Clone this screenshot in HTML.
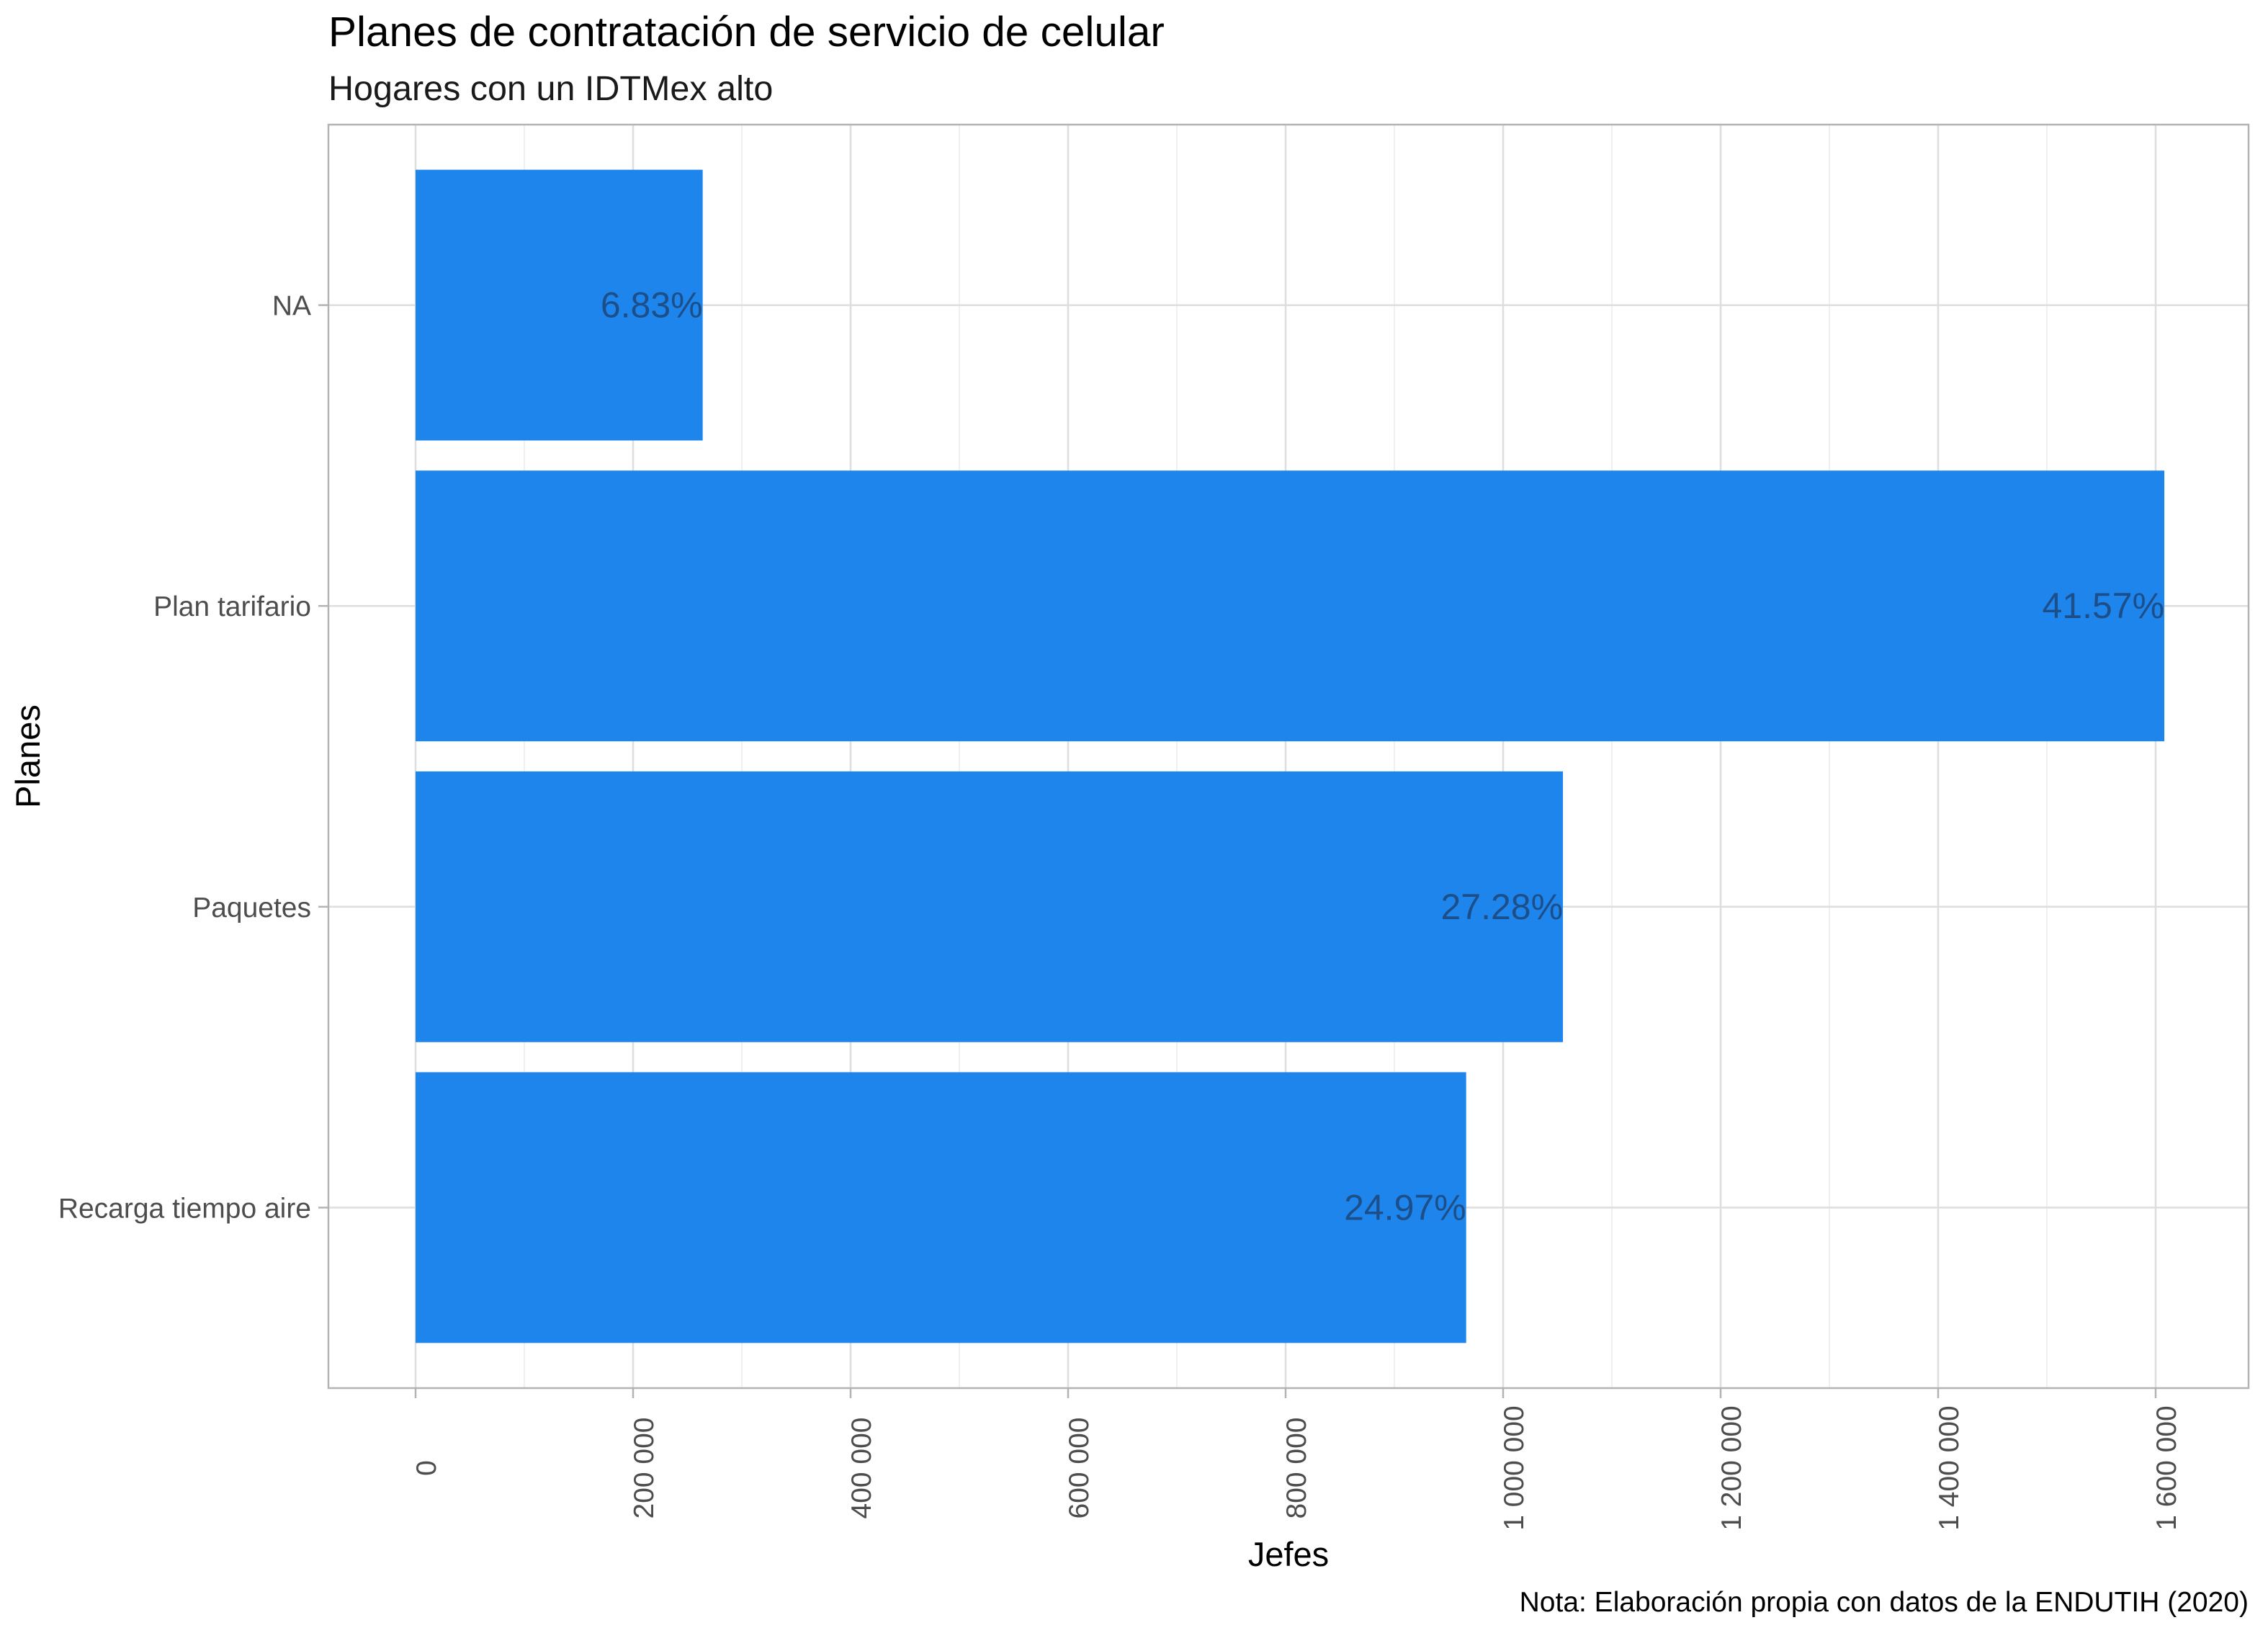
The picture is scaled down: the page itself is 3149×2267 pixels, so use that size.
<!DOCTYPE html>
<html><head><meta charset="utf-8"><style>
html,body{margin:0;padding:0;background:#fff;}
svg{display:block;font-family:"Liberation Sans",Arial,sans-serif;}
</style></head><body>
<svg id="chart" width="3149" height="2267" viewBox="0 0 3149 2267" xmlns="http://www.w3.org/2000/svg">
<rect x="0" y="0" width="3149" height="2267" fill="#fff"/>
<text x="456" y="64" font-size="58.5" fill="#000">Planes de contratación de servicio de celular</text>
<text x="456" y="139" font-size="48.5" fill="#1a1a1a">Hogares con un IDTMex alto</text>
<g id="grid"></g>
<g id="bars"></g>
<g id="labels"></g>
<rect x="456" y="173" width="2666" height="1754" fill="none" stroke="#b3b3b3" stroke-width="2.5"/>
<g id="axes"></g>
<text transform="translate(55,1050) rotate(-90)" text-anchor="middle" font-size="47" fill="#000">Planes</text>
<text x="1789" y="2174" text-anchor="middle" font-size="47" fill="#000">Jefes</text>
<text x="3122" y="2237" text-anchor="end" font-size="39" fill="#000">Nota: Elaboración propia con datos de la ENDUTIH (2020)</text>
</svg>
<script>
const categories = ["NA", "Plan tarifario", "Paquetes", "Recarga tiempo aire"];
const values = [264000, 1608000, 1055000, 966000];
const pctLabels = ["6.83%", "41.57%", "27.28%", "24.97%"];
const xTicks = [0, 200000, 400000, 600000, 800000, 1000000, 1200000, 1400000, 1600000];
const xTickLabels = ["0", "200 000", "400 000", "600 000", "800 000", "1 000 000", "1 200 000", "1 400 000", "1 600 000"];

const NS = "http://www.w3.org/2000/svg";
const panel = {l:456, t:173, r:3122, b:1927};
const xScale = v => 577 + v * 1510 / 1000000;
const band = (panel.b - panel.t) / (categories.length - 1 + 1.2);
const yScale = i => panel.t + (0.6 + i) * band;
function mk(tag, attrs, parent){const e=document.createElementNS(NS,tag);for(const k in attrs)e.setAttribute(k,attrs[k]);parent.appendChild(e);return e;}
const grid=document.getElementById('grid'), bars=document.getElementById('bars'), labels=document.getElementById('labels'), axes=document.getElementById('axes');

for(let i=0;i<xTicks.length;i++){
  const v = xTicks[i] + 100000;
  const x = xScale(v);
  if (x < panel.r) {
    const g = mk('line',{x1:x,x2:x,y1:panel.t,y2:panel.b,stroke:'#ececec','stroke-width':1.5},grid);
    
    
  }
}
xTicks.forEach((v,i)=>{
  const x = xScale(v);
  const g = mk('line',{x1:x,x2:x,y1:panel.t,y2:panel.b,stroke:'#dedede','stroke-width':2.5},grid);
  
  
  const t = mk('line',{x1:x,x2:x,y1:panel.b,y2:panel.b+14,stroke:'#b3b3b3','stroke-width':2.5},axes);
  
  
  const lb = mk('text',{transform:`translate(${x+28},2038) rotate(-90)`,'text-anchor':'middle','font-size':39,fill:'#4d4d4d'},axes);
  lb.textContent = xTickLabels[i];
  
  
});
categories.forEach((c,i)=>{
  const y = yScale(i);
  const g = mk('line',{x1:panel.l,x2:panel.r,y1:y,y2:y,stroke:'#dedede','stroke-width':2.5},grid);
  
  
  const t = mk('line',{x1:panel.l-14,x2:panel.l,y1:y,y2:y,stroke:'#b3b3b3','stroke-width':2.5},axes);
  
  
  const lb = mk('text',{x:panel.l-24,y:y+14,'text-anchor':'end','font-size':39,fill:'#4d4d4d'},axes);
  lb.textContent = c;
  
  
  const h = band*0.9;
  const x0 = xScale(0), x1 = xScale(values[i]);
  const r = mk('rect',{x:x0,y:y-h/2,width:x1-x0,height:h,fill:'#1e85ec'},bars);
  
  
  const tl = mk('text',{x:x1,y:y+17,'text-anchor':'end','font-size':50,fill:'#1c4f8a'},labels);
  tl.textContent = pctLabels[i];
  
  
});
</script>
</body></html>
